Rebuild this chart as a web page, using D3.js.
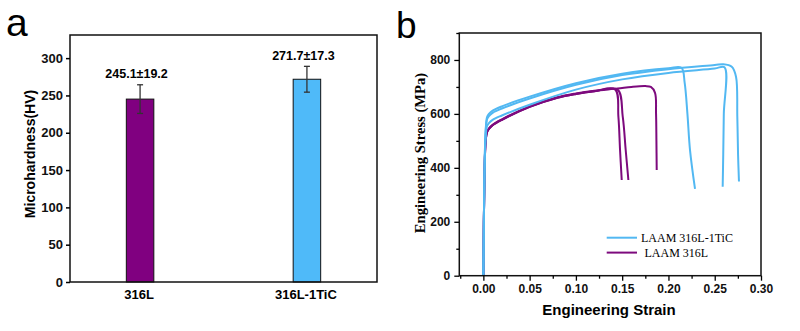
<!DOCTYPE html>
<html>
<head>
<meta charset="UTF-8">
<script src="https://cdnjs.cloudflare.com/ajax/libs/d3/7.8.5/d3.min.js"></script>
<style>
  body { margin: 0; background: #fff; }
  svg { display: block; }
  .sans { font-family: "Liberation Sans", Arial, sans-serif; font-weight: bold; }
  .serif { font-family: "Liberation Serif", "Times New Roman", serif; }
</style>
</head>
<body>
<div id="chart"></div>
<script>
// panel a: microhardness
var samples = ["316L", "316L-1TiC"];
var hardness = [245.1, 271.7];
var hardnessErr = [19.2, 17.3];
var hardnessTicks = [0, 50, 100, 150, 200, 250, 300];

// panel b: tensile curves, [strain, stress(MPa)]
var tic1 = [[0,0],[0.0012,380],[0.0025,540],[0.004,588],[0.006,600],[0.01,612],[0.02,628],[0.05,664],[0.10,714],[0.15,749],[0.20,769],[0.214,771],[0.2175,716],[0.2205,600],[0.2233,466],[0.2287,322]];
var tic2 = [[0,0],[0.0012,380],[0.0025,535],[0.004,580],[0.006,592],[0.01,604],[0.02,620],[0.05,657],[0.10,708],[0.15,744],[0.20,766],[0.25,781],[0.2593,784],[0.2684,775],[0.273,738],[0.2744,590],[0.2752,450],[0.2762,349]];
var tic3 = [[0,0],[0.0012,370],[0.0025,515],[0.004,555],[0.006,566],[0.01,578],[0.02,594],[0.05,634],[0.10,690],[0.15,728],[0.20,752],[0.25,768],[0.2605,773],[0.2598,600],[0.2592,450],[0.2586,330]];
var ss1 = [[0,0],[0.0012,370],[0.0025,500],[0.004,532],[0.006,544],[0.01,558],[0.02,578],[0.05,626],[0.08,660],[0.10,674],[0.12,684],[0.1423,691],[0.1459,590],[0.1477,466],[0.1495,355]];
var ss2 = [[0,0],[0.0012,370],[0.0025,500],[0.004,532],[0.006,544],[0.01,558],[0.02,578],[0.05,626],[0.08,660],[0.10,674],[0.12,684],[0.145,690],[0.1506,590],[0.1538,466],[0.1567,355]];
var ss3 = [[0,0],[0.0012,370],[0.0025,502],[0.004,534],[0.006,546],[0.01,560],[0.02,580],[0.05,628],[0.08,662],[0.10,676],[0.12,686],[0.145,694],[0.16,700],[0.175,703],[0.181,700],[0.1855,678],[0.1866,600],[0.187,500],[0.1873,392]];
var strainTicks = [0, 0.05, 0.10, 0.15, 0.20, 0.25, 0.30];
var strainMinor = [-0.025, 0.025, 0.075, 0.125, 0.175, 0.225, 0.275];
var stressTicks = [0, 200, 400, 600, 800];
var stressMinor = [100, 300, 500, 700, 900];

var blue = "#52b8f2", purple = "#7d0a7d";
var barBlue = "#4fbaf9", barPurple = "#800080";

var svg = d3.select("#chart").append("svg")
    .attr("width", 800).attr("height", 331);

/////////// panel a
var a = {left: 70, right: 377, top: 35, bottom: 282};

var xa = d3.scalePoint().domain(samples).range([a.left, a.right]).padding(0.42);
var ya = d3.scaleLinear().domain([0, 331]).range([a.bottom, a.top]);

svg.append("text").attr("class", "sans").attr("x", 6).attr("y", 36)
    .style("font-weight", "normal").style("font-size", "39px").text("a");

var bars = svg.append("g");
bars.selectAll("rect").data(samples).enter().append("rect")
    .attr("x", function (d) { return xa(d) - 13.75; })
    .attr("width", 27.5)
    .attr("y", function (d, i) { return ya(hardness[i]); })
    .attr("height", function (d, i) { return ya(0) - ya(hardness[i]); })
    .attr("fill", function (d, i) { return i == 0 ? barPurple : barBlue; })
    .attr("stroke", "#111").attr("stroke-width", 1);

// error bars
var err = svg.append("g").attr("stroke", "#333").attr("stroke-width", 1.3);
samples.forEach(function (d, i) {
    var cx = xa(d);
    var hi = ya(hardness[i] + hardnessErr[i]), lo = ya(hardness[i] - hardnessErr[i]);
    err.append("line").attr("x1", cx).attr("x2", cx).attr("y1", hi).attr("y2", lo);
    err.append("line").attr("x1", cx - 3).attr("x2", cx + 3).attr("y1", hi).attr("y2", hi);
    err.append("line").attr("x1", cx - 3).attr("x2", cx + 3).attr("y1", lo).attr("y2", lo);
    svg.append("text").attr("class", "sans")
        .attr("x", cx - 3.5).attr("y", hi - 6.5)
        .attr("text-anchor", "middle").style("font-size", "12.5px")
        .text(hardness[i].toFixed(1) + "±" + hardnessErr[i].toFixed(1));
});

// frame
svg.append("rect").attr("x", a.left).attr("y", a.top)
    .attr("width", a.right - a.left).attr("height", a.bottom - a.top)
    .attr("fill", "none").attr("stroke", "#111").attr("stroke-width", 1.5);

var yAxisA = svg.append("g").attr("class", "sans")
    .attr("transform", "translate(" + a.left + ",0)")
    .call(d3.axisLeft(ya).tickValues(hardnessTicks).tickSize(4).tickPadding(3));
yAxisA.select(".domain").remove();
yAxisA.selectAll("line").attr("stroke-width", 1.5);
yAxisA.selectAll("text").style("font-size", "13px").attr("fill", "#111");

svg.selectAll(".xlab").data(samples).enter().append("text")
    .attr("class", "sans").attr("x", function (d) { return xa(d) - 1; }).attr("y", 299)
    .attr("text-anchor", "middle").style("font-size", "13px").text(function (d) { return d; });

svg.append("text").attr("class", "sans")
    .attr("transform", "translate(35,154) rotate(-90)")
    .attr("text-anchor", "middle").style("font-size", "14px")
    .text("Microhardness(HV)");

/////////// panel b
var b = {left: 459.3, right: 761, top: 33, bottom: 275.7};

var xb = d3.scaleLinear().domain([-0.026, 0.30]).range([b.left, b.right]);
var yb = d3.scaleLinear().domain([0, 900]).range([b.bottom, b.top]);

svg.append("text").attr("class", "sans").attr("x", 396).attr("y", 38)
    .style("font-weight", "normal").style("font-size", "37px").text("b");

var line = d3.line()
    .x(function (d) { return xb(d[0]); })
    .y(function (d) { return yb(d[1]); })
    .curve(d3.curveCatmullRom.alpha(0.5));

var curves = [
    {pts: ss1, c: purple}, {pts: ss2, c: purple}, {pts: ss3, c: purple},
    {pts: tic3, c: blue}, {pts: tic1, c: blue}, {pts: tic2, c: blue}
];
svg.append("g").selectAll("path").data(curves).enter().append("path")
    .attr("d", function (d) { return line(d.pts); })
    .attr("fill", "none")
    .attr("stroke", function (d) { return d.c; })
    .attr("stroke-width", 2);

svg.append("rect").attr("x", b.left).attr("y", b.top)
    .attr("width", b.right - b.left).attr("height", b.bottom - b.top)
    .attr("fill", "none").attr("stroke", "#111").attr("stroke-width", 1.5);

var xAxisB = svg.append("g").attr("class", "sans")
    .attr("transform", "translate(0," + b.bottom + ")")
    .call(d3.axisBottom(xb).tickValues(strainTicks).tickFormat(d3.format(".2f")).tickSize(5).tickPadding(4));
xAxisB.select(".domain").remove();
xAxisB.selectAll("line").attr("stroke-width", 1.3);
xAxisB.selectAll("text").style("font-size", "12px").attr("fill", "#111");
var xMinorB = svg.append("g").attr("transform", "translate(0," + b.bottom + ")")
    .call(d3.axisBottom(xb).tickValues(strainMinor).tickSize(3).tickFormat(""));
xMinorB.select(".domain").remove();
xMinorB.selectAll("line").attr("stroke-width", 1.3);

var yAxisB = svg.append("g").attr("class", "sans")
    .attr("transform", "translate(" + b.left + ",0)")
    .call(d3.axisLeft(yb).tickValues(stressTicks).tickSize(5).tickPadding(4));
yAxisB.select(".domain").remove();
yAxisB.selectAll("line").attr("stroke-width", 1.3);
yAxisB.selectAll("text").style("font-size", "12px").attr("fill", "#111");
var yMinorB = svg.append("g").attr("transform", "translate(" + b.left + ",0)")
    .call(d3.axisLeft(yb).tickValues(stressMinor).tickSize(3).tickFormat(""));
yMinorB.select(".domain").remove();
yMinorB.selectAll("line").attr("stroke-width", 1.3);

svg.append("text").attr("class", "sans")
    .attr("x", 609).attr("y", 315).attr("text-anchor", "middle")
    .style("font-size", "15px").text("Engineering Strain");

svg.append("text").attr("class", "serif")
    .attr("transform", "translate(425,153) rotate(-90)")
    .attr("text-anchor", "middle").style("font-size", "14.6px").style("font-weight", "bold")
    .text("Engineering Stress (MPa)");

// legend
var legend = [
    {name: "LAAM 316L-1TiC", c: blue, tx: 641, y: 237.7},
    {name: "LAAM 316L", c: purple, tx: 644.5, y: 252.6}
];
legend.forEach(function (d) {
    svg.append("line").attr("x1", 606.7).attr("x2", 637).attr("y1", d.y).attr("y2", d.y)
        .attr("stroke", d.c).attr("stroke-width", 2);
    svg.append("text").attr("class", "serif").attr("x", d.tx).attr("y", d.y + 4.5)
        .style("font-size", "12px").text(d.name);
});
</script>
</body>
</html>
